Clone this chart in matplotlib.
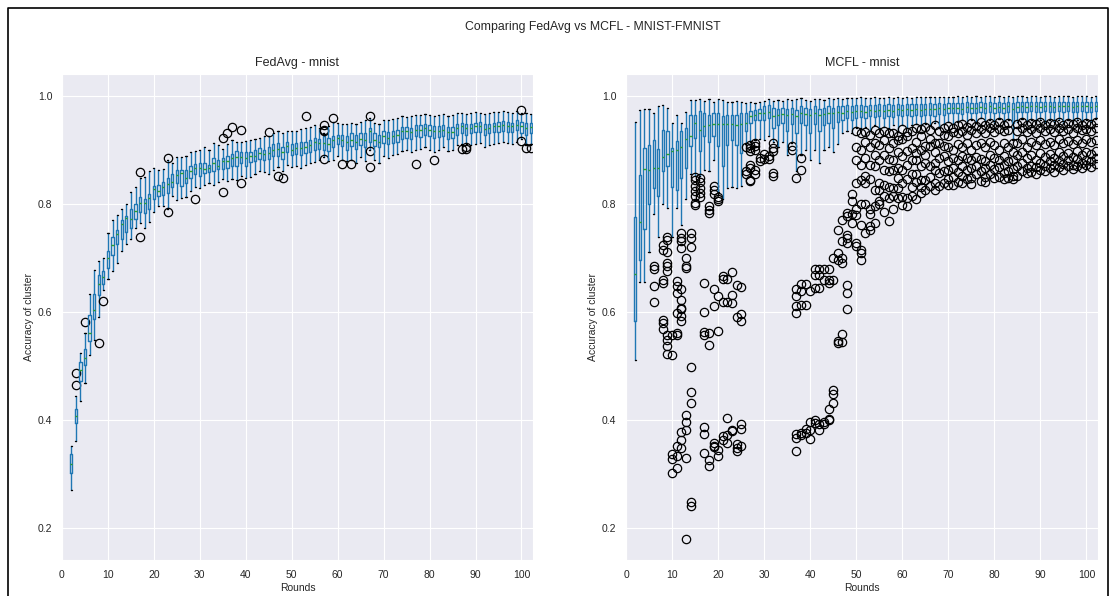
import matplotlib
matplotlib.use("Agg")
import matplotlib.pyplot as plt
import seaborn as sns
from matplotlib.lines import Line2D

sns.set_style("darkgrid")
plt.rcParams["font.family"] = ["Liberation Sans", "DejaVu Sans"]

rounds = list(range(2, 103))

# FedAvg per-round box statistics (rounds 2..102)
fedavg_med = [
    .317, .407, .491, .515, .561, .603, .652, .665, .700, .724,
    .743, .763, .774, .772, .787, .801, .802, .811, .827, .824,
    .831, .837, .840, .853, .857, .848, .860, .866, .866, .865,
    .866, .876, .870, .878, .878, .884, .887, .887, .884, .888,
    .888, .894, .891, .894, .899, .901, .895, .907, .899, .903,
    .903, .905, .909, .915, .912, .913, .911, .918, .922, .918,
    .915, .918, .915, .920, .918, .934, .918, .915, .925, .922,
    .925, .927, .934, .934, .933, .937, .937, .940, .937, .934,
    .934, .937, .932, .932, .940, .943, .940, .940, .943, .944,
    .938, .940, .943, .943, .946, .944, .943, .946, .943, .940,
    .941]
fedavg_q1 = [
    .302, .393, .472, .502, .545, .586, .630, .652, .680, .705,
    .725, .735, .748, .755, .772, .785, .782, .790, .808, .815,
    .816, .820, .830, .838, .832, .838, .848, .855, .852, .857,
    .858, .860, .864, .864, .866, .870, .870, .875, .870, .877,
    .878, .882, .880, .882, .888, .888, .882, .895, .890, .892,
    .890, .893, .896, .900, .902, .900, .898, .905, .910, .906,
    .900, .906, .902, .908, .905, .915, .906, .905, .912, .910,
    .913, .915, .920, .922, .920, .925, .924, .928, .926, .922,
    .924, .926, .920, .922, .928, .930, .928, .930, .932, .933,
    .927, .930, .932, .932, .935, .933, .932, .936, .930, .928,
    .930]
fedavg_q3 = [
    .337, .420, .507, .531, .593, .633, .668, .676, .712, .738,
    .752, .770, .777, .790, .800, .812, .808, .817, .833, .835,
    .840, .847, .855, .862, .862, .862, .870, .874, .875, .876,
    .872, .884, .880, .884, .888, .892, .897, .895, .895, .896,
    .900, .903, .900, .905, .910, .912, .905, .915, .910, .912,
    .915, .914, .918, .922, .920, .925, .922, .926, .928, .928,
    .925, .930, .928, .930, .930, .940, .930, .928, .935, .932,
    .935, .937, .942, .942, .940, .945, .945, .948, .946, .944,
    .943, .946, .942, .942, .948, .950, .948, .948, .950, .951,
    .947, .948, .950, .951, .953, .952, .950, .954, .952, .950,
    .950]
fedavg_lo = [
    .270, .361, .435, .467, .519, .548, .590, .640, .660, .675,
    .690, .712, .725, .735, .755, .765, .755, .766, .785, .795,
    .795, .790, .815, .807, .810, .812, .823, .830, .828, .835,
    .838, .835, .840, .845, .842, .845, .843, .852, .848, .850,
    .855, .860, .858, .855, .862, .867, .860, .872, .868, .870,
    .866, .872, .875, .877, .880, .886, .878, .880, .888, .880,
    .878, .880, .876, .886, .878, .900, .880, .875, .888, .885,
    .890, .892, .898, .900, .895, .900, .902, .905, .900, .895,
    .900, .905, .898, .900, .908, .910, .910, .908, .910, .912,
    .905, .908, .910, .912, .915, .912, .910, .915, .920, .908,
    .908]
fedavg_hi = [
    .352, .444, .524, .560, .633, .677, .693, .700, .745, .770,
    .778, .790, .800, .822, .830, .847, .850, .860, .866, .862,
    .864, .880, .875, .887, .886, .888, .895, .898, .900, .905,
    .900, .912, .908, .902, .910, .918, .915, .915, .916, .918,
    .920, .922, .925, .926, .930, .935, .930, .935, .935, .935,
    .938, .940, .942, .945, .940, .930, .943, .952, .950, .948,
    .947, .950, .948, .952, .955, .958, .950, .948, .955, .955,
    .957, .958, .962, .960, .962, .965, .965, .966, .965, .962,
    .964, .966, .962, .964, .968, .968, .966, .968, .970, .968,
    .966, .968, .970, .970, .972, .970, .968, .972, .968, .968,
    .966]
fedavg_outliers = {
    3: [.487, .465], 5: [.580], 8: [.541], 9: [.620],
    17: [.858, .739], 23: [.884, .785], 29: [.809],
    35: [.922, .822], 36: [.930], 37: [.941], 39: [.936, .838],
    45: [.933], 47: [.851], 48: [.848], 53: [.963],
    57: [.946, .937, .934, .883], 59: [.959], 61: [.873], 63: [.873],
    67: [.963, .897, .868], 77: [.873], 81: [.881], 87: [.901],
    88: [.905, .901], 100: [.974, .916], 101: [.903], 102: [.903],
}

# MCFL per-round box statistics (rounds 2..102)
mcfl_med = [
    .670, .766, .864, .862, .866, .866, .887, .891, .897, .900,
    .905, .920, .925, .950, .937, .943, .946, .948, .948, .948,
    .948, .948, .946, .948, .950, .962, .965, .967, .968, .970,
    .962, .964, .966, .964, .966, .962, .968, .966, .965, .968,
    .964, .966, .968, .967, .970, .968, .972, .970, .971, .972,
    .970, .973, .972, .974, .971, .974, .972, .975, .973, .975,
    .974, .976, .974, .975, .976, .975, .977, .976, .978, .977,
    .978, .976, .979, .978, .977, .979, .978, .980, .978, .979,
    .978, .980, .975, .979, .980, .979, .981, .980, .979, .981,
    .980, .979, .981, .980, .981, .979, .980, .981, .980, .979,
    .981]
mcfl_q1 = [
    .583, .696, .753, .800, .828, .815, .861, .870, .831, .826,
    .848, .866, .907, .922, .897, .925, .915, .926, .906, .869,
    .908, .918, .909, .894, .934, .949, .954, .955, .955, .958,
    .940, .945, .950, .935, .948, .930, .950, .945, .930, .948,
    .935, .945, .950, .940, .952, .955, .958, .955, .958, .960,
    .958, .962, .960, .962, .958, .963, .960, .964, .962, .964,
    .963, .965, .962, .964, .965, .963, .966, .965, .968, .967,
    .968, .966, .969, .968, .967, .969, .968, .970, .968, .969,
    .968, .970, .950, .969, .970, .969, .971, .970, .969, .971,
    .970, .969, .971, .970, .971, .969, .970, .971, .970, .969,
    .971]
mcfl_q3 = [
    .775, .853, .903, .909, .917, .902, .937, .935, .903, .916,
    .934, .940, .965, .965, .971, .968, .965, .967, .967, .963,
    .965, .965, .965, .968, .968, .971, .973, .975, .980, .982,
    .978, .976, .978, .975, .978, .974, .980, .978, .976, .980,
    .976, .978, .980, .978, .980, .980, .982, .980, .982, .983,
    .980, .983, .982, .984, .982, .984, .982, .985, .983, .985,
    .984, .985, .984, .985, .986, .985, .986, .985, .987, .986,
    .987, .986, .988, .987, .986, .988, .987, .988, .987, .988,
    .987, .988, .986, .988, .989, .988, .989, .988, .988, .989,
    .988, .988, .989, .988, .989, .988, .988, .989, .988, .988,
    .989]
mcfl_lo = [
    .511, .655, .655, .710, .780, .738, .800, .792, .738, .792,
    .760, .809, .854, .851, .852, .863, .860, .880, .822, .808,
    .829, .830, .829, .832, .910, .915, .918, .920, .918, .925,
    .915, .905, .915, .890, .912, .860, .890, .900, .880, .900,
    .875, .900, .905, .895, .910, .930, .935, .930, .940, .940,
    .942, .935, .945, .940, .942, .940, .945, .935, .945, .940,
    .945, .948, .945, .948, .945, .950, .940, .948, .952, .948,
    .952, .955, .950, .955, .950, .958, .952, .955, .950, .956,
    .950, .955, .918, .952, .956, .950, .955, .952, .955, .950,
    .955, .952, .955, .950, .955, .952, .955, .952, .955, .952,
    .956]
mcfl_hi = [
    .952, .973, .975, .975, .967, .980, .983, .977, .950, .964,
    .950, .969, .992, .991, .994, .990, .994, .988, .993, .991,
    .988, .988, .990, .989, .986, .988, .986, .989, .990, .994,
    .990, .992, .990, .993, .992, .993, .995, .992, .990, .994,
    .993, .992, .995, .993, .996, .994, .996, .995, .996, .997,
    .995, .996, .997, .996, .995, .997, .996, .997, .996, .997,
    .996, .998, .997, .997, .998, .997, .998, .997, .998, .998,
    .999, .998, .999, .998, .999, .998, .999, .999, .998, .999,
    .998, .999, .998, .999, .999, .998, .999, .999, .998, .999,
    .999, .998, .999, .999, .999, .998, .999, .999, .999, .998,
    .999]
mcfl_outliers = {
    6: [.684, .678, .647, .617],
    8: [.724, .715, .659, .653, .585, .579, .567],
    9: [.739, .733, .711, .690, .684, .675, .556, .548, .537, .522],
    10: [.556, .520, .337, .327, .301],
    11: [.656, .647, .634, .598, .560, .557, .352, .333, .310],
    12: [.746, .736, .730, .718, .641, .622, .607, .604, .591, .582, .377, .363, .348],
    13: [.699, .684, .681, .409, .395, .380, .329, .179],
    14: [.746, .737, .720, .498, .451, .431, .248, .240],
    15: [.850, .844, .832, .823, .814, .801, .797],
    16: [.848, .840, .829, .820, .813],
    17: [.653, .600, .562, .557, .386, .374, .338],
    18: [.795, .789, .783, .561, .539, .326, .315],
    19: [.832, .826, .817, .641, .610, .356, .352, .349],
    20: [.813, .808, .804, .628, .564, .344, .333],
    21: [.666, .661, .617, .369, .363],
    22: [.661, .617, .403, .372, .356],
    23: [.673, .631, .616, .380, .378],
    24: [.650, .590, .354, .348, .341],
    25: [.646, .595, .583, .391, .383, .352],
    26: [.905, .860, .855],
    27: [.909, .903, .897, .872, .866, .844, .841],
    28: [.912, .906, .900, .863, .854],
    29: [.885, .878],
    30: [.891, .882],
    31: [.888, .882],
    32: [.912, .903, .897, .857, .851],
    36: [.906, .900],
    37: [.847, .641, .628, .610, .597, .374, .366, .341],
    38: [.884, .863, .652, .638, .612, .376, .372],
    39: [.652, .612, .383, .375],
    40: [.638, .395, .381, .364],
    41: [.678, .668, .644, .400, .394],
    42: [.678, .668, .644, .391, .381],
    43: [.678, .659, .395, .391],
    44: [.678, .659, .653, .420, .401, .400],
    45: [.699, .659, .455, .448, .430],
    46: [.752, .709, .696, .545, .542],
    47: [.770, .730, .700, .690, .559, .544],
    48: [.783, .777, .742, .736, .727, .650, .634, .604],
    49: [.817, .804, .780, .765],
    50: [.935, .905, .880, .838, .790, .778, .727, .721],
    51: [.930, .900, .872, .844, .800, .760, .715, .708, .696],
    52: [.933, .915, .885, .851, .838, .800, .745],
    53: [.928, .905, .872, .845, .790, .780, .758, .752],
    54: [.936, .912, .890, .870, .826, .795, .765],
    55: [.930, .908, .881, .838, .826, .805, .800],
    56: [.935, .918, .890, .862, .835, .815, .785],
    57: [.930, .903, .882, .860, .830, .810, .767],
    58: [.931, .912, .880, .863, .829, .815, .790],
    59: [.925, .918, .895, .866, .848, .829, .810],
    60: [.938, .920, .888, .863, .838, .812, .798],
    61: [.932, .925, .897, .872, .845, .810, .795],
    62: [.935, .903, .881, .855, .830, .815],
    63: [.940, .915, .894, .881, .855, .840, .808],
    64: [.938, .925, .900, .870, .844, .830, .820],
    65: [.942, .906, .890, .875, .844, .826],
    66: [.937, .920, .906, .870, .850, .832],
    67: [.945, .912, .895, .875, .863, .838, .825],
    68: [.934, .912, .885, .857, .832],
    69: [.940, .928, .906, .888, .860, .838],
    70: [.944, .925, .905, .878, .862, .845, .835],
    71: [.940, .932, .900, .884, .866, .850, .834],
    72: [.946, .930, .910, .880, .858, .840],
    73: [.948, .935, .905, .888, .870, .852, .838],
    74: [.942, .928, .912, .884, .862, .845],
    75: [.950, .936, .900, .880, .866, .848, .836],
    76: [.944, .930, .908, .886, .870, .855],
    77: [.952, .938, .912, .882, .860, .842],
    78: [.946, .930, .904, .878, .866, .850, .840],
    79: [.950, .940, .915, .890, .872, .855],
    80: [.945, .932, .908, .884, .865, .848],
    81: [.952, .938, .900, .880, .868, .850],
    82: [.946, .934, .912, .888, .872, .856, .845],
    83: [.950, .936, .905, .878, .860, .848],
    84: [.912, .895, .880, .864, .852, .846],
    85: [.948, .935, .912, .890, .870, .852],
    86: [.952, .940, .920, .895, .876, .860],
    87: [.946, .932, .905, .884, .866, .856],
    88: [.950, .938, .915, .890, .870, .858],
    89: [.948, .930, .908, .880, .868, .855],
    90: [.952, .940, .918, .894, .875, .862],
    91: [.946, .935, .910, .886, .870, .860],
    92: [.950, .938, .915, .892, .878, .866],
    93: [.948, .932, .908, .885, .872, .858],
    94: [.952, .940, .920, .896, .878, .868],
    95: [.946, .934, .912, .888, .874, .862],
    96: [.950, .938, .916, .894, .880, .870],
    97: [.948, .930, .910, .886, .872, .864],
    98: [.952, .940, .918, .898, .882, .870],
    99: [.946, .936, .912, .890, .876, .866],
    100: [.950, .938, .920, .896, .880, .872],
    101: [.948, .934, .914, .892, .878, .868],
    102: [.952, .940, .918, .898, .884, .874],
}


def box_stats(med, q1, q3, lo, hi, outliers):
    stats = []
    for i, r in enumerate(rounds):
        stats.append(dict(med=med[i], q1=q1[i], q3=q3[i],
                          whislo=lo[i], whishi=hi[i],
                          fliers=outliers.get(r, [])))
    return stats


def draw_panel(ax, stats, title):
    ax.bxp(stats, positions=rounds, widths=0.5, manage_ticks=False,
           boxprops=dict(color="#1f77b4", linewidth=1),
           whiskerprops=dict(color="#1f77b4", linewidth=1),
           capprops=dict(color="k", linewidth=1),
           medianprops=dict(color="#2ca02c", linewidth=1),
           flierprops=dict(marker="o", markerfacecolor="none",
                           markeredgecolor="k", markersize=6,
                           markeredgewidth=0.9))
    ax.set_xlim(0, 102.5)
    ax.set_ylim(0.14, 1.04)
    ax.set_xticks(range(0, 101, 10))
    ax.set_yticks([0.2, 0.4, 0.6, 0.8, 1.0])
    ax.set_title(title, fontsize=9)
    ax.set_xlabel("Rounds", fontsize=7.5, labelpad=2)
    ax.set_ylabel("Accuracy of cluster", fontsize=7.5, labelpad=3)
    ax.tick_params(labelsize=7.5)


fig = plt.figure(figsize=(11.11, 5.96), dpi=100)
ax1 = fig.add_axes([0.0558, 0.0604, 0.4239, 0.8154])
ax2 = fig.add_axes([0.5635, 0.0604, 0.4248, 0.8154])

draw_panel(ax1, box_stats(fedavg_med, fedavg_q1, fedavg_q3, fedavg_lo,
                          fedavg_hi, fedavg_outliers), "FedAvg - mnist")
draw_panel(ax2, box_stats(mcfl_med, mcfl_q1, mcfl_q3, mcfl_lo,
                          mcfl_hi, mcfl_outliers), "MCFL - mnist")

fig.suptitle("Comparing FedAvg vs MCFL - MNIST-FMNIST", x=0.534, y=0.955,
             fontsize=8.8, va="center")

# frame around the figure
fig.add_artist(Line2D([0.0072, 0.0072, 0.9973, 0.9973], [0, 0.9866, 0.9866, 0],
                      transform=fig.transFigure, color="k", linewidth=1.2))

fig.savefig("out.png", dpi=100)
